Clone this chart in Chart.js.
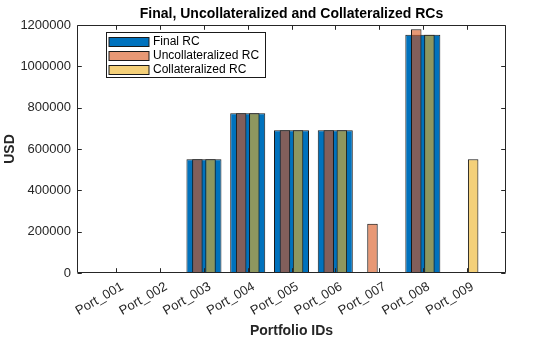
<!DOCTYPE html>
<html><head><meta charset="utf-8">
<script src="https://cdn.jsdelivr.net/npm/chart.js@4"></script>
<style>html,body{margin:0;padding:0;background:#fff}canvas{display:block}</style>
</head><body>
<canvas id="c" width="560" height="337"></canvas>
<script>
const categories = ['Port_001','Port_002','Port_003','Port_004','Port_005','Port_006','Port_007','Port_008','Port_009'];
const finalRC  = [0, 0, 551000, 773000, 691000, 691000, 0,      1153000, 0];
const uncollRC = [0, 0, 551000, 773000, 691000, 691000, 238000, 1179000, 0];
const collRC   = [0, 0, 551000, 773000, 691000, 691000, 0,      1153000, 551000];
const yTicks = [0, 200000, 400000, 600000, 800000, 1000000, 1200000];
const seriesNames = ['Final RC', 'Uncollateralized RC', 'Collateralized RC'];
const titleText = 'Final, Uncollateralized and Collateralized RCs';
const xTitle = 'Portfolio IDs';
const yTitle = 'USD';

const FONT = '"Liberation Sans", Arial, Helvetica, sans-serif';
const AX = '#262626';
const EDGE = '#1a1a1a';

const toXY = arr => arr.map((v, i) => ({x: i + 1, y: v}));

const boxPlugin = {
  id: 'matlabBox',
  afterDatasetsDraw(chart) {
    const {ctx, chartArea: a, scales: {x, y}} = chart;
    const L = Math.round(a.left) + 0.5, R = Math.round(a.right) - 0.5;
    const T = Math.round(a.top) + 0.5, B = Math.round(a.bottom) - 0.5;
    const tl = 4.3;
    ctx.save();
    ctx.strokeStyle = AX;
    ctx.lineWidth = 1;
    ctx.beginPath();
    ctx.rect(L, T, R - L, B - T);
    y.ticks.forEach(t => {
      const py = Math.round(y.getPixelForValue(t.value)) + 0.5;
      ctx.moveTo(L, py); ctx.lineTo(L + tl, py);
      ctx.moveTo(R, py); ctx.lineTo(R - tl, py);
    });
    x.ticks.forEach(t => {
      const px = Math.round(x.getPixelForValue(t.value)) + 0.5;
      ctx.moveTo(px, B); ctx.lineTo(px, B - tl);
      ctx.moveTo(px, T); ctx.lineTo(px, T + tl);
    });
    ctx.stroke();
    ctx.restore();
  },
  afterDraw(chart) {
    const {ctx, chartArea: a} = chart;
    const cx = (a.left + a.right) / 2;
    ctx.save();
    // title centred over the plot area
    ctx.fillStyle = '#000';
    ctx.font = 'bold 14px ' + FONT;
    ctx.textAlign = 'center';
    ctx.textBaseline = 'alphabetic';
    ctx.fillText(titleText, cx, 18);
    // axis titles
    ctx.fillStyle = AX;
    ctx.fillText(xTitle, cx, 335);
    ctx.save();
    ctx.translate(14, (a.top + a.bottom) / 2);
    ctx.rotate(-Math.PI / 2);
    ctx.fillText(yTitle, 0, 0);
    ctx.restore();
    // legend
    const bx = Math.round(a.left + 29.4) + 0.5, by = Math.round(a.top + 7) + 0.5;
    const bw = 159, bh = 45;
    ctx.fillStyle = '#fff';
    ctx.fillRect(bx, by, bw, bh);
    ctx.strokeStyle = EDGE;
    ctx.lineWidth = 1;
    ctx.strokeRect(bx, by, bw, bh);
    ctx.font = '12px ' + FONT;
    ctx.textBaseline = 'middle';
    ctx.textAlign = 'left';
    chart.data.datasets.forEach((ds, i) => {
      const cy = by + 8.7 + i * 14.1;
      const sy = Math.round(cy - 4.7) + 0.5;
      ctx.fillStyle = '#fff';
      ctx.fillRect(bx + 2.5, sy, 40, 9);
      ctx.fillStyle = ds.backgroundColor;
      ctx.fillRect(bx + 2.5, sy, 40, 9);
      ctx.strokeStyle = EDGE;
      ctx.strokeRect(bx + 2.5, sy, 40, 9);
      ctx.fillStyle = '#000';
      ctx.fillText(ds.label, bx + 46.5, cy + 0.5);
    });
    ctx.restore();
  }
};

new Chart(document.getElementById('c'), {
  type: 'bar',
  data: {
    datasets: [
      {label: seriesNames[0], data: toXY(finalRC), backgroundColor: '#0072BD', borderColor: EDGE, borderWidth: 1,
       borderSkipped: false, grouped: false, categoryPercentage: 1, barPercentage: 0.8, order: 2},
      {label: seriesNames[1], data: toXY(uncollRC), backgroundColor: 'rgba(217,83,25,0.6)', borderColor: EDGE, borderWidth: 1,
       borderSkipped: false, grouped: true, categoryPercentage: 0.6, barPercentage: 0.8, order: 0},
      {label: seriesNames[2], data: toXY(collRC), backgroundColor: 'rgba(237,177,32,0.6)', borderColor: EDGE, borderWidth: 1,
       borderSkipped: false, grouped: true, categoryPercentage: 0.6, barPercentage: 0.8, order: 1}
    ]
  },
  options: {
    responsive: false,
    animation: false,
    layout: {padding: {left: 0, right: 54, top: 25, bottom: 0}},
    plugins: {
      legend: {display: false},
      tooltip: {enabled: false},
      title: {display: false}
    },
    scales: {
      x: {
        type: 'linear', position: 'bottom', min: 0.1, max: 9.9, offset: false,
        grid: {display: false, drawTicks: false, offset: false},
        border: {display: false},
        afterBuildTicks: s => { s.ticks = categories.map((c, i) => ({value: i + 1})); },
        afterFit: s => { s.height = 64; },
        ticks: {autoSkip: false, minRotation: 30, maxRotation: 30, padding: 6, labelOffset: 6, color: AX,
                font: {family: FONT, size: 13},
                callback: v => categories[Math.round(v) - 1]},
        title: {display: false}
      },
      y: {
        min: 0, max: 1200000,
        grid: {display: false, drawTicks: false},
        border: {display: false},
        afterBuildTicks: s => { s.ticks = yTicks.map(v => ({value: v})); },
        afterFit: s => { s.width = 77; },
        ticks: {padding: 6, color: AX, font: {family: FONT, size: 13}, callback: v => String(v)},
        title: {display: false}
      }
    }
  },
  plugins: [boxPlugin]
});
</script>
</body></html>
